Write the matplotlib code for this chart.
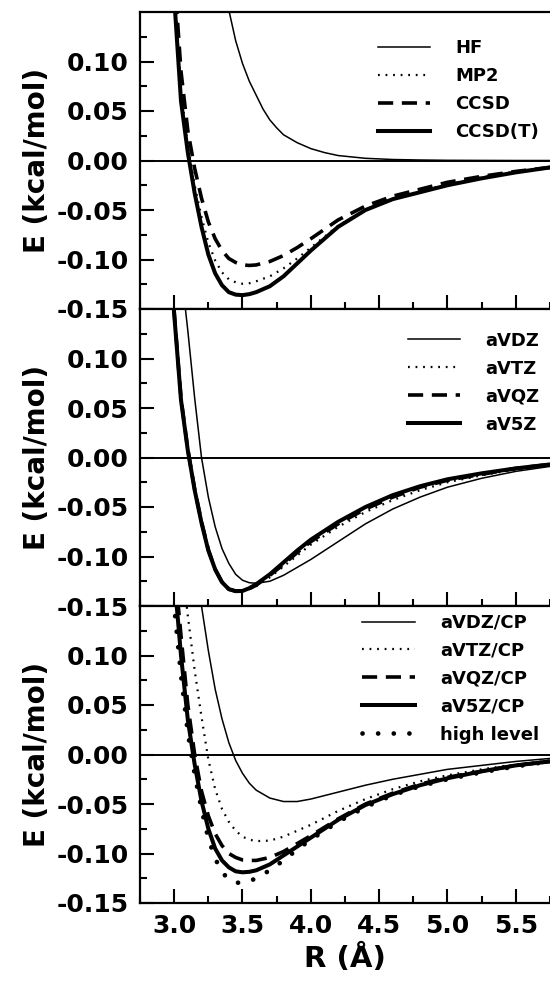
import numpy as np
import matplotlib
matplotlib.use("Agg")
import matplotlib.pyplot as plt
from matplotlib.ticker import FixedLocator, MultipleLocator

plt.rcParams["font.family"] = ["DejaVu Sans"]
plt.rcParams["font.weight"] = "bold"
plt.rcParams["axes.unicode_minus"] = False

# ---- data (R in Angstrom, E in kcal/mol) ----
R = [2.95, 3.0, 3.05, 3.1, 3.15, 3.2, 3.25, 3.3, 3.35, 3.4, 3.45, 3.5, 3.55, 3.6,
     3.7, 3.8, 3.9, 4.0, 4.2, 4.4, 4.6, 4.8, 5.0, 5.25, 5.5, 5.75]

# panel 1: methods
R_hf = [3.3, 3.35, 3.4, 3.45, 3.5, 3.55, 3.6, 3.65, 3.7, 3.75, 3.8, 3.9, 4.0, 4.1,
        4.2, 4.4, 4.6, 4.8, 5.0, 5.25, 5.5, 5.75]
hf = [0.25, 0.195, 0.152, 0.121, 0.098, 0.080, 0.066, 0.052, 0.041, 0.033, 0.026,
      0.018, 0.012, 0.008, 0.005, 0.0022, 0.001, 0.0005, 0.0002, 0.0001, 0.0, 0.0]
mp2 = [0.28, 0.175, 0.07, 0.015, -0.025, -0.057, -0.083, -0.101, -0.113, -0.120,
       -0.123, -0.1245, -0.124, -0.122, -0.117, -0.109, -0.099, -0.088, -0.066,
       -0.050, -0.039, -0.031, -0.024, -0.017, -0.011, -0.007]
ccsd = [0.30, 0.19, 0.09, 0.03, -0.008, -0.038, -0.062, -0.079, -0.091, -0.099,
        -0.103, -0.1055, -0.106, -0.1055, -0.102, -0.096, -0.088, -0.079, -0.060,
        -0.046, -0.036, -0.029, -0.022, -0.016, -0.011, -0.007]
ccsd_t = [0.27, 0.165, 0.06, 0.008, -0.033, -0.067, -0.095, -0.114, -0.126, -0.133,
          -0.1355, -0.136, -0.135, -0.133, -0.127, -0.117, -0.104, -0.091, -0.067,
          -0.050, -0.039, -0.032, -0.025, -0.018, -0.012, -0.007]

# panel 2: basis sets
avdz = [0.40, 0.27, 0.19, 0.128, 0.06, 0.0, -0.04, -0.07, -0.092, -0.107, -0.118,
        -0.124, -0.1265, -0.127, -0.125, -0.119, -0.111, -0.103, -0.085, -0.067,
        -0.052, -0.040, -0.030, -0.021, -0.014, -0.009]
avtz = [0.25, 0.15, 0.062, 0.01, -0.031, -0.064, -0.092, -0.112, -0.125, -0.132,
        -0.135, -0.135, -0.133, -0.130, -0.121, -0.110, -0.099, -0.088, -0.070,
        -0.055, -0.043, -0.033, -0.025, -0.018, -0.012, -0.008]
avqz = [0.245, 0.147, 0.06, 0.008, -0.032, -0.065, -0.093, -0.113, -0.126, -0.133,
        -0.135, -0.135, -0.1325, -0.129, -0.119, -0.108, -0.096, -0.085, -0.067,
        -0.052, -0.040, -0.030, -0.023, -0.017, -0.011, -0.007]
av5z = [0.24, 0.145, 0.058, 0.007, -0.033, -0.066, -0.094, -0.113, -0.126, -0.133,
        -0.135, -0.1348, -0.132, -0.128, -0.118, -0.106, -0.094, -0.083, -0.065,
        -0.050, -0.038, -0.029, -0.022, -0.016, -0.011, -0.007]

# panel 3: counterpoise corrected
avdz_cp = [0.55, 0.45, 0.37, 0.30, 0.22, 0.15, 0.105, 0.066, 0.036, 0.012, -0.006,
           -0.019, -0.029, -0.036, -0.044, -0.0475, -0.0475, -0.045, -0.038, -0.031,
           -0.025, -0.020, -0.015, -0.011, -0.007, -0.004]
avtz_cp = [0.40, 0.28, 0.20, 0.14, 0.085, 0.038, -0.005, -0.035, -0.055, -0.068,
           -0.077, -0.083, -0.086, -0.0875, -0.087, -0.083, -0.077, -0.071, -0.057,
           -0.045, -0.035, -0.027, -0.021, -0.015, -0.010, -0.006]
avqz_cp = [0.30, 0.195, 0.12, 0.05, 0.0, -0.037, -0.062, -0.080, -0.092, -0.100,
           -0.104, -0.1065, -0.107, -0.107, -0.104, -0.098, -0.090, -0.082, -0.065,
           -0.050, -0.039, -0.030, -0.023, -0.017, -0.011, -0.007]
av5z_cp = [0.28, 0.18, 0.10, 0.035, -0.01, -0.047, -0.075, -0.095, -0.107, -0.114,
           -0.118, -0.119, -0.1185, -0.117, -0.111, -0.102, -0.093, -0.084, -0.066,
           -0.051, -0.040, -0.031, -0.024, -0.017, -0.011, -0.007]
high = [0.25, 0.15, 0.08, 0.022, -0.02, -0.055, -0.085, -0.105, -0.119, -0.126,
        -0.1295, -0.1295, -0.128, -0.125, -0.117, -0.107, -0.096, -0.086, -0.068,
        -0.053, -0.041, -0.032, -0.025, -0.018, -0.012, -0.007]

ytick_vals = [-0.15, -0.10, -0.05, 0.00, 0.05, 0.10]
ytick_labels = ["-0.15", "-0.10", "-0.05", "0.00", "0.05", "0.10"]
xtick_vals = [3.0, 3.5, 4.0, 4.5, 5.0, 5.5]

# line styles
THIN = dict(color="black", lw=1.1, ls="-")
DOT = dict(color="black", lw=1.6, ls=(0, (0.8, 2.6)))
DASH = dict(color="black", lw=2.6, ls=(0, (4.2, 2.4)))
THICK = dict(color="black", lw=2.9, ls="-")
BIGDOT = dict(color="black", lw=3.4, ls=(0, (0.01, 3.3)), dash_capstyle="round")

fig = plt.figure(figsize=(5.5, 9.92), dpi=100)
H = 297 / 992
B0 = 89 / 992
L = 140 / 550
axes = [fig.add_axes([L, B0 + (2 - i) * H, 1 - L, H]) for i in range(3)]

panels = [
    [(R_hf, hf, "HF", THIN), (R, mp2, "MP2", DOT), (R, ccsd, "CCSD", DASH),
     (R, ccsd_t, "CCSD(T)", THICK)],
    [(R, avdz, "aVDZ", THIN), (R, avtz, "aVTZ", DOT), (R, avqz, "aVQZ", DASH),
     (R, av5z, "aV5Z", THICK)],
    [(R, avdz_cp, "aVDZ/CP", THIN), (R, avtz_cp, "aVTZ/CP", DOT),
     (R, avqz_cp, "aVQZ/CP", DASH), (R, av5z_cp, "aV5Z/CP", THICK),
     (R, high, "high level", BIGDOT)],
]
leg_top = [0.945, 0.96, 1.01]

for i, (ax, series) in enumerate(zip(axes, panels)):
    ax.axhline(0, color="black", lw=1.4, zorder=1)
    for x, y, lab, st in series:
        ax.plot(x, y, label=lab, zorder=3, **st)
    ax.set_xlim(2.75, 5.75)
    ax.set_ylim(-0.15, 0.15)
    ax.yaxis.set_major_locator(FixedLocator(ytick_vals))
    ax.set_yticklabels(ytick_labels)
    ax.yaxis.set_minor_locator(FixedLocator([-0.125, -0.075, -0.025, 0.025, 0.075, 0.125]))
    ax.xaxis.set_major_locator(FixedLocator(xtick_vals))
    ax.xaxis.set_minor_locator(MultipleLocator(0.25))
    ax.tick_params(which="both", direction="in", width=1.5, top=False, right=False)
    ax.tick_params(which="major", length=10, labelsize=18, pad=8)
    ax.tick_params(which="minor", length=5)
    ax.spines["right"].set_visible(False)
    for s in ("left", "bottom", "top"):
        ax.spines[s].set_linewidth(1.6)
    ax.set_ylabel("E (kcal/mol)", fontsize=20, fontweight="bold", labelpad=4)
    ax.legend(loc="upper right", bbox_to_anchor=(1.0, leg_top[i]), frameon=False,
              fontsize=13, handlelength=2.9, handletextpad=1.4, labelspacing=0.55,
              borderaxespad=0.2)
    if i < 2:
        ax.tick_params(labelbottom=False)

axes[2].set_xlabel("R (Å)", fontsize=21, fontweight="bold", labelpad=4)

fig.savefig("out.png", dpi=100)
